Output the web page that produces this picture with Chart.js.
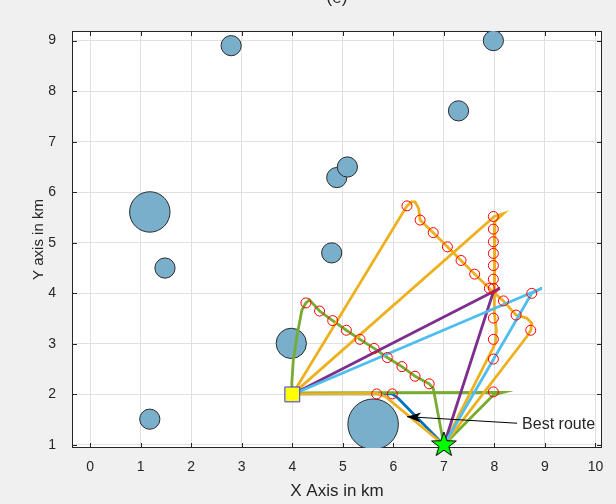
<!DOCTYPE html>
<html>
<head>
<meta charset="utf-8">
<script src="https://cdn.jsdelivr.net/npm/chart.js@4.4.1/dist/chart.umd.min.js"></script>
<style>
  body { margin: 0; background: #f0f0f0; }
  #wrap { width: 616px; height: 504px; }
</style>
</head>
<body>
<div id="wrap"><canvas id="routeChart" width="616" height="504"></canvas></div>
<script>
// Axis ticks
const xTicks = [0, 1, 2, 3, 4, 5, 6, 7, 8, 9, 10];
const yTicks = [1, 2, 3, 4, 5, 6, 7, 8, 9];

// Obstacles (km): centre + radius
const obstacleX = [2.79, 7.98, 7.29, 4.88, 5.09, 1.18, 1.48, 4.78, 3.98, 1.18, 5.6];
const obstacleY = [8.90, 9.00, 7.61, 6.29, 6.50, 5.61, 4.50, 4.80, 3.01, 1.51, 1.41];
const obstacleR = [0.2, 0.2, 0.2, 0.2, 0.2, 0.4, 0.2, 0.2, 0.3, 0.2, 0.5];

// Start (square) and goal (star)
const startX = [4];
const startY = [2];
const goalX = [7];
const goalY = [1];

// Routes
const bestX = [4, 5.67, 5.98, 6.1, 7];
const bestY = [2.01, 2.01, 2.01, 1.92, 1];

const yellowAX = [4, 6.27, 6.36, 6.43, 6.5, 6.53, 6.79, 7.07, 7.34, 7.61, 7.90, 8.18, 8.43, 8.64, 8.74, 8.72, 8.64, 7];
const yellowAY = [2, 5.73, 5.81, 5.81, 5.68, 5.45, 5.20, 4.92, 4.65, 4.38, 4.10, 3.85, 3.57, 3.51, 3.41, 3.27, 3.14, 1];

const yellowBX = [4, 8.0, 8.18, 8.01, 8.0, 8.0, 8.04, 8.02, 7];
const yellowBY = [2, 5.52, 5.58, 5.42, 4.5, 3.6, 3.27, 3.01, 1];

const yellowCX = [4, 5.67, 5.84, 7];
const yellowCY = [2.01, 2.02, 1.96, 1];

const greenAX = [4, 3.99, 4.02, 4.09, 4.19, 4.27, 4.34, 4.54, 4.80, 5.07, 5.34, 5.62, 5.88, 6.17, 6.43, 6.71, 6.79, 7];
const greenAY = [2, 2.22, 2.68, 3.14, 3.67, 3.81, 3.87, 3.65, 3.46, 3.27, 3.09, 2.91, 2.73, 2.55, 2.36, 2.21, 2.12, 1];

const greenBX = [4, 7.98, 8.17, 7.98, 7];
const greenBY = [2.03, 2.04, 2.04, 1.99, 1];

const purpleX = [4, 8.11, 7.98, 7];
const purpleY = [2, 4.10, 4.03, 1];

const cyanX = [4, 8.94, 8.74, 7];
const cyanY = [2, 4.10, 4.0, 1];

// Waypoints (red circles)
const waypointX = [
  4.27, 4.54, 4.80, 5.07, 5.34, 5.62, 5.88, 6.17, 6.43, 6.71,
  6.27, 6.53, 6.79, 7.07, 7.34, 7.61, 7.90, 8.18, 8.43, 8.72,
  7.98, 7.98, 7.98, 7.98, 7.98, 7.98, 7.98, 7.98, 7.98, 7.98,
  5.67, 5.98, 7.98, 8.74
];
const waypointY = [
  3.81, 3.65, 3.46, 3.27, 3.09, 2.91, 2.73, 2.55, 2.36, 2.21,
  5.73, 5.45, 5.20, 4.92, 4.65, 4.38, 4.10, 3.85, 3.57, 3.27,
  5.52, 5.27, 5.02, 4.79, 4.55, 4.28, 4.10, 3.51, 3.09, 2.70,
  2.01, 2.01, 2.05, 4.0
];

// "Best route" annotation
const arrowTail = [8.45, 1.43];
const arrowHead = [6.27, 1.56];
const noteText = 'Best route';

const toPoints = (xs, ys) => xs.map((x, i) => ({ x: x, y: ys[i] }));

function pxPerKm(chart) {
  const s = chart.scales.x;
  return s.getPixelForValue(1) - s.getPixelForValue(0);
}

// filled pentagram for the goal marker
const starImg = document.createElement('canvas');
starImg.width = 30;
starImg.height = 30;
const sc = starImg.getContext('2d');
sc.beginPath();
for (let i = 0; i < 10; i++) {
  const r = i % 2 === 0 ? 13 : 5.2;
  const a = -Math.PI / 2 + i * Math.PI / 5;
  sc.lineTo(15 + r * Math.cos(a), 15 + r * Math.sin(a));
}
sc.closePath();
sc.fillStyle = '#00ff00';
sc.fill();
sc.strokeStyle = '#000';
sc.lineWidth = 1;
sc.stroke();

const FONT = '"Liberation Sans", Arial, Helvetica, sans-serif';
const INK = '#262626';

const route = (xs, ys, color) => ({
  data: toPoints(xs, ys),
  showLine: true,
  borderColor: color,
  borderWidth: 2.8,
  pointRadius: 0,
  tension: 0,
  fill: false
});

// background + box with inward ticks
const frame = {
  id: 'frame',
  beforeDraw(chart) {
    const { ctx, chartArea: a } = chart;
    ctx.save();
    ctx.fillStyle = '#f0f0f0';
    ctx.fillRect(0, 0, chart.width, chart.height);
    ctx.fillStyle = '#ffffff';
    ctx.fillRect(a.left, a.top, a.right - a.left, a.bottom - a.top);
    ctx.restore();
  },
  beforeDatasetsDraw(chart) {
    const { ctx, chartArea: a, scales } = chart;
    ctx.save();
    ctx.strokeStyle = INK;
    ctx.lineWidth = 1;
    ctx.strokeRect(a.left + 0.5, a.top + 0.5, a.right - a.left - 1, a.bottom - a.top - 1);
    ctx.beginPath();
    xTicks.forEach(v => {
      const px = Math.round(scales.x.getPixelForValue(v)) + 0.5;
      ctx.moveTo(px, a.bottom); ctx.lineTo(px, a.bottom - 5);
      ctx.moveTo(px, a.top); ctx.lineTo(px, a.top + 5);
    });
    yTicks.forEach(v => {
      const py = Math.round(scales.y.getPixelForValue(v)) + 0.5;
      ctx.moveTo(a.left, py); ctx.lineTo(a.left + 5, py);
      ctx.moveTo(a.right, py); ctx.lineTo(a.right - 5, py);
    });
    ctx.stroke();
    ctx.restore();
  },
  afterDatasetsDraw(chart) {
    const { ctx, scales } = chart;
    const tx = scales.x.getPixelForValue(arrowTail[0]);
    const ty = scales.y.getPixelForValue(arrowTail[1]);
    const hx = scales.x.getPixelForValue(arrowHead[0]);
    const hy = scales.y.getPixelForValue(arrowHead[1]);
    const ang = Math.atan2(hy - ty, hx - tx);
    ctx.save();
    ctx.strokeStyle = '#000';
    ctx.lineWidth = 1;
    ctx.beginPath();
    ctx.moveTo(tx, ty);
    ctx.lineTo(hx, hy);
    ctx.stroke();
    ctx.fillStyle = '#000';
    ctx.beginPath();
    ctx.moveTo(hx, hy);
    ctx.lineTo(hx - 14 * Math.cos(ang) + 5 * Math.sin(ang), hy - 14 * Math.sin(ang) - 5 * Math.cos(ang));
    ctx.lineTo(hx - 10 * Math.cos(ang), hy - 10 * Math.sin(ang));
    ctx.lineTo(hx - 14 * Math.cos(ang) - 5 * Math.sin(ang), hy - 14 * Math.sin(ang) + 5 * Math.cos(ang));
    ctx.closePath();
    ctx.fill();
    ctx.fillStyle = INK;
    ctx.font = '16px ' + FONT;
    ctx.textAlign = 'left';
    ctx.textBaseline = 'middle';
    ctx.fillText(noteText, tx + 5, ty + 1.5);
    // title, mostly cut off at the top of the figure
    const a = chart.chartArea;
    ctx.font = '17px ' + FONT;
    ctx.textAlign = 'center';
    ctx.textBaseline = 'alphabetic';
    ctx.fillText('(e)', (a.left + a.right) / 2, 3);
    ctx.restore();
  }
};

// first dataset is drawn on top
const ctx = document.getElementById('routeChart');
const routeChart = new Chart(ctx, {
  type: 'scatter',
  data: {
    datasets: [
      {
        data: toPoints(goalX, goalY),
        pointStyle: starImg,
        pointRadius: 13,
        clip: false
      },
      {
        data: toPoints(startX, startY),
        pointStyle: 'rect',
        pointRadius: 10.5,
        backgroundColor: '#ffff00',
        borderColor: '#3333ff',
        borderWidth: 1
      },
      {
        data: toPoints(waypointX, waypointY),
        pointStyle: 'circle',
        pointRadius: 5,
        backgroundColor: 'rgba(0,0,0,0)',
        borderColor: '#ff0000',
        borderWidth: 1
      },
      route(cyanX, cyanY, '#4DBEEE'),
      route(purpleX, purpleY, '#7E2F8E'),
      route(yellowAX, yellowAY, '#EDB120'),
      route(yellowBX, yellowBY, '#EDB120'),
      route(yellowCX, yellowCY, '#EDB120'),
      route(greenAX, greenAY, '#77AC30'),
      route(greenBX, greenBY, '#77AC30'),
      route(bestX, bestY, '#0072BD'),
      {
        data: toPoints(obstacleX, obstacleY),
        pointStyle: 'circle',
        pointRadius: c => obstacleR[c.dataIndex] * pxPerKm(c.chart),
        backgroundColor: '#7aafcb',
        borderColor: '#2b2b2b',
        borderWidth: 1
      }
    ]
  },
  options: {
    responsive: false,
    animation: false,
    events: [],
    layout: { padding: { top: 31, right: 14, left: 0, bottom: 0 } },
    plugins: {
      legend: { display: false },
      tooltip: { enabled: false }
    },
    scales: {
      x: {
        type: 'linear',
        min: -0.36,
        max: 10.13,
        afterBuildTicks: s => { s.ticks = xTicks.map(v => ({ value: v })); },
        afterFit: s => { s.height = 56; },
        grid: { color: '#e1e1e1', drawTicks: false },
        border: { display: false },
        ticks: { color: INK, font: { family: FONT, size: 14 }, padding: 11, autoSkip: false, maxRotation: 0 },
        title: { display: true, text: 'X Axis in km', color: INK, font: { family: FONT, size: 17 }, padding: { top: 0, bottom: 2 } }
      },
      y: {
        type: 'linear',
        min: 0.94,
        max: 9.19,
        afterBuildTicks: s => { s.ticks = yTicks.map(v => ({ value: v })); },
        afterFit: s => { s.width = 72; },
        grid: { color: '#e1e1e1', drawTicks: false },
        border: { display: false },
        ticks: { color: INK, font: { family: FONT, size: 14 }, padding: 16, autoSkip: false },
        title: { display: true, text: 'Y axis in km', color: INK, font: { family: FONT, size: 15 }, padding: { top: 30, bottom: 0 } }
      }
    }
  },
  plugins: [frame]
});
</script>
</body>
</html>
